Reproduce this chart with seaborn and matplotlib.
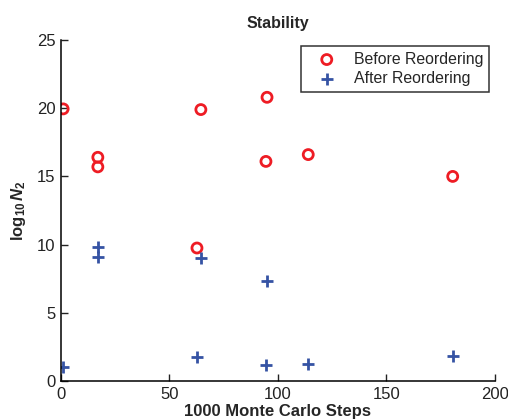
import matplotlib
matplotlib.use("Agg")
import matplotlib.pyplot as plt
import seaborn as sns
import pandas as pd

# Values
before_steps = [1, 17, 17, 64.5, 95, 94.5, 114, 180.6, 62.7]
before_log = [19.95, 16.4, 15.7, 19.9, 20.8, 16.1, 16.6, 15.0, 9.75]
after_steps = [1, 17, 17, 64.5, 62.7, 95, 94.5, 114, 180.6]
after_log = [1.05, 9.85, 9.1, 9.05, 1.75, 7.3, 1.15, 1.25, 1.85]

xticks = [0, 50, 100, 150, 200]
yticks = [0, 5, 10, 15, 20, 25]

before = pd.DataFrame({"Steps": before_steps, "log10N2": before_log})
after = pd.DataFrame({"Steps": after_steps, "log10N2": after_log})

sns.set_style("ticks")
plt.rcParams["font.family"] = ["Liberation Sans", "DejaVu Sans"]
plt.rcParams["mathtext.fontset"] = "custom"
plt.rcParams["mathtext.rm"] = "Liberation Sans:bold"
plt.rcParams["mathtext.it"] = "Liberation Sans:bold:italic"
plt.rcParams["mathtext.bf"] = "Liberation Sans:bold"

fig = plt.figure(figsize=(5.08, 4.19), dpi=100)
ax = fig.add_axes([0.12, 0.0907, 0.854, 0.8138])

red = "#ee1c24"
blue = "#3553a4"

sns.scatterplot(data=before, x="Steps", y="log10N2", ax=ax, marker="o", s=52,
                facecolor="none", edgecolor=red, linewidth=2.0, label="Before Reordering")
sns.scatterplot(data=after, x="Steps", y="log10N2", ax=ax, marker="+", s=80,
                color=blue, linewidth=2.0, label="After Reordering")

ax.set_xlim(0, 200)
ax.set_ylim(0, 25)
ax.set_xticks(xticks)
ax.set_yticks(yticks)
ax.tick_params(direction="in", length=5, width=1, labelsize=12, colors="#222222", pad=4)
for side in ["top", "right"]:
    ax.spines[side].set_visible(False)
for side in ["left", "bottom"]:
    ax.spines[side].set_linewidth(1.1)
    ax.spines[side].set_color("black")

ax.set_title("Stability", fontsize=11.5, fontweight="bold", pad=8.5)
ax.set_xlabel("1000 Monte Carlo Steps", fontsize=12, fontweight="bold", labelpad=2)
ax.set_ylabel(r"$\log_{10}\mathit{N}_2$", fontsize=12, labelpad=6)

leg = ax.legend(loc="upper right", bbox_to_anchor=(0.986, 0.982), borderaxespad=0,
                fontsize=11.4, frameon=True, fancybox=False, edgecolor="black",
                handletextpad=0.45, borderpad=0.35, labelspacing=0.3, handlelength=2.5)
leg.get_frame().set_linewidth(1.1)

fig.savefig("out.png", dpi=100)
